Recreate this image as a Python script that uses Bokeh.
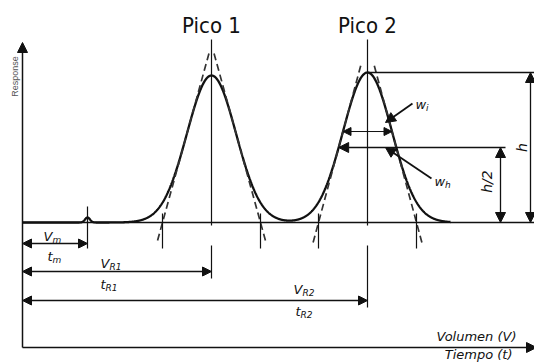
import numpy as np
from bokeh.plotting import figure
from bokeh.models import Range1d, Arrow, NormalHead, Label
from bokeh.embed import file_html
from bokeh.resources import INLINE

# --- chromatogram data (x: volume / time, y: detector response above baseline) ---
peak_labels = ["Pico 1", "Pico 2"]
peak_center = [211, 367]          # retention volumes V_R1, V_R2
peak_height = [147, 150]          # peak heights h
peak_sigma = [24.5, 24.5]         # gaussian standard deviation of each peak
tangent_top = [1.17, 1.07]        # where the dashed tangents stop (fraction of h)
tangent_bottom = [-18, -20]       # how far the tangents run below the baseline

dead_center = 87                  # hold-up volume V_m (unretained marker)
dead_height = 5
dead_sigma = 2.5

origin_x = 22                     # injection point / y axis
trace_end = 450
axis_end_x = 536
axis_top_y = 180
axis_bottom_y = -125

INK = "#111111"
FONT = "DejaVu Sans"
TITLE_FONT = "DejaVu Sans Condensed"

p = figure(width=534, height=362, x_range=Range1d(0, 534), y_range=Range1d(-140, 222),
           output_backend="svg", toolbar_location=None,
           x_axis_type=None, y_axis_type=None, min_border=0)
p.outline_line_color = None
p.background_fill_color = "white"
p.border_fill_color = "white"


def head(size=9):
    return NormalHead(size=size, fill_color=INK, line_color=INK, line_width=1)


def arrow(x0, y0, x1, y1, both=False, size=9, lw=1.4):
    p.add_layout(Arrow(x_start=x0, y_start=y0, x_end=x1, y_end=y1,
                       start=head(size) if both else None, end=head(size),
                       line_color=INK, line_width=lw))


def text(x, y, s, size=13, italic=True, angle=0.0, align="left", baseline="alphabetic",
         font=FONT, color=INK):
    # lift alphabetic labels so that y is where the glyphs sit
    y_offset = 0.3 * size if baseline == "alphabetic" else 0
    p.add_layout(Label(x=x, y=y, y_offset=y_offset, text=s, text_font=font,
                       text_font_size=f"{size}px",
                       text_font_style="italic" if italic else "normal",
                       text_align=align, text_baseline=baseline, angle=angle,
                       text_color=color))


def sub_text(x, y, main, sub, advance, size=13, sub_size=9, drop=2.0):
    text(x, y, main, size=size)
    text(x + advance, y - drop, sub, size=sub_size)


# --- axes ---
arrow(origin_x, axis_bottom_y, origin_x, axis_top_y, size=10, lw=1.5)
arrow(origin_x, axis_bottom_y, axis_end_x, axis_bottom_y, size=10, lw=1.5)
text(14, 146, "Response", size=9, italic=False, angle=np.pi / 2, align="center",
     baseline="middle", font="Liberation Sans", color="#555555")
text(516, -118, "Volumen (V)", size=13, align="right")
text(512, -136, "Tiempo (t)", size=13, align="right")

# --- baseline and detector trace ---
p.segment(x0=[origin_x], y0=[0], x1=[534], y1=[0], line_color=INK, line_width=1.3)
xs = np.linspace(origin_x, trace_end, 1500)
ys = dead_height * np.exp(-0.5 * ((xs - dead_center) / dead_sigma) ** 2)
for c, h, s in zip(peak_center, peak_height, peak_sigma):
    ys = ys + h * np.exp(-0.5 * ((xs - c) / s) ** 2)
p.line(xs, ys, line_color=INK, line_width=2.3)

# --- inflection tangents and their baseline intercepts ---
for c, h, s, top, bot in zip(peak_center, peak_height, peak_sigma, tangent_top, tangent_bottom):
    k = h * np.exp(-0.5) / s
    yy = [bot, top * h]
    p.line([c - 2 * s + y / k for y in yy], yy, line_color="#333333", line_width=1.7,
           line_dash="7 4")
    p.line([c + 2 * s - y / k for y in yy], yy, line_color="#333333", line_width=1.7,
           line_dash="7 4")
    p.segment(x0=[c - 2 * s, c + 2 * s], y0=[9, 9], x1=[c - 2 * s, c + 2 * s],
              y1=[-26, -26], line_color=INK, line_width=1.2)

# --- peak maxima markers and titles ---
retention_arrow_y = [-49, -78]
for c, lab, ay in zip(peak_center, peak_labels, retention_arrow_y):
    p.segment(x0=[c, c], y0=[-3, -23], x1=[c, c], y1=[183, ay - 7],
              line_color=INK, line_width=1.2)
    text(c, 190, lab, size=22, italic=False, align="center", font=TITLE_FONT)

p.segment(x0=[dead_center], y0=[16], x1=[dead_center], y1=[-26], line_color=INK, line_width=1.2)

# --- retention distance arrows ---
arrow(origin_x, -21, dead_center, -21, both=True)
arrow(origin_x, retention_arrow_y[0], peak_center[0], retention_arrow_y[0], both=True)
arrow(origin_x, retention_arrow_y[1], peak_center[1], retention_arrow_y[1], both=True)

sub_text(43, -18, "V", "m", 8.9)
sub_text(47, -38, "t", "m", 5.1)
sub_text(100, -45, "V", "R1", 8.9)
sub_text(100, -66, "t", "R1", 5.1)
sub_text(293, -71, "V", "R2", 8.9)
sub_text(295, -93, "t", "R2", 5.1)

# --- peak 2 width and height construction ---
c2, h2, s2 = peak_center[1], peak_height[1], peak_sigma[1]
half_w = s2 * np.sqrt(2 * np.log(2))
y_inf = h2 * np.exp(-0.5)

p.segment(x0=[c2], y0=[h2], x1=[534], y1=[h2], line_color=INK, line_width=1.3)
arrow(530, 0, 530, h2, both=True, size=10, lw=1.3)
text(521.5, h2 / 2, "h", size=14, angle=np.pi / 2, align="center", baseline="middle")

arrow(505, h2 / 2, c2 - half_w, h2 / 2, size=10, lw=1.6)
arrow(500, 0, 500, h2 / 2, both=True, size=10, lw=1.3)
text(486, 41, "h/2", size=14, angle=np.pi / 2, align="center", baseline="middle")

arrow(c2 - s2, y_inf, c2 + s2, y_inf, both=True, size=8, lw=1.0)

arrow(412, 119, 385, 100, size=10, lw=1.8)
sub_text(415, 114, "w", "i", 10.6)
arrow(431, 44, 385, 75, size=10, lw=1.8)
sub_text(434, 37, "w", "h", 10.6)

open("out.html", "w").write(file_html(p, INLINE))
